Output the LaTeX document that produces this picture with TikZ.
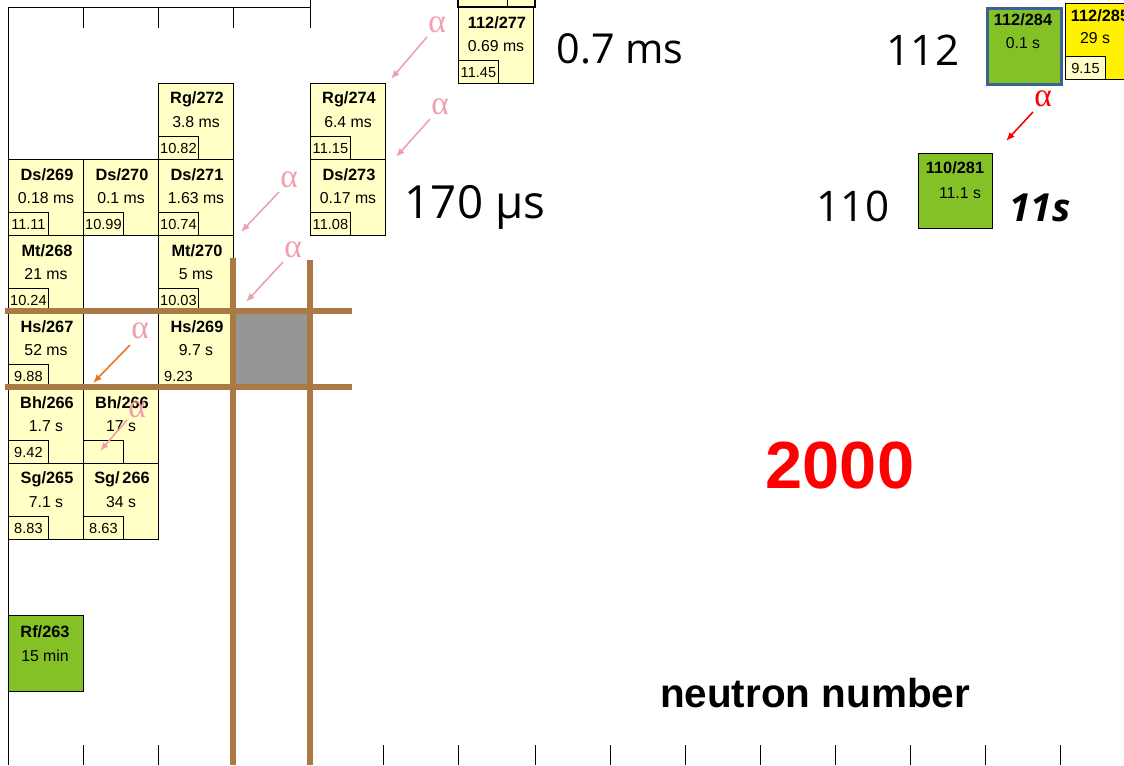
\documentclass[tikz,border=0pt]{standalone}
\usepackage{fontspec}
\setmainfont{Liberation Sans}
\newfontfamily\handfont{Open Sans}
\newfontfamily\greekfont{Liberation Serif}
\usetikzlibrary{arrows.meta}
\definecolor{cellYellow}{RGB}{255,255,198}
\definecolor{nucGreen}{RGB}{132,193,38}
\definecolor{barBrown}{RGB}{170,122,68}
\definecolor{alphaPink}{RGB}{240,160,170}
\definecolor{decOrange}{RGB}{232,118,32}
\definecolor{boxBlue}{RGB}{58,98,150}
\definecolor{greyCell}{RGB}{150,150,150}

\begin{document}
\begin{tikzpicture}[x=0.02cm,y=-0.02cm,
      cell/.style={draw,fill=cellYellow,line width=0.6pt,minimum width=1.5cm,minimum height=1.52cm,inner sep=0pt,anchor=north west},
      ttl/.style={font=\fontsize{9.3}{10}\selectfont\bfseries,inner sep=0pt},
      val/.style={font=\fontsize{9}{10}\selectfont,inner sep=0pt},
      qbox/.style={draw,line width=0.5pt,fill=cellYellow,font=\fontsize{8.3}{9}\selectfont,minimum width=0.8cm,minimum height=0.46cm,inner sep=1pt,anchor=south west},
      qtxt/.style={qbox,draw=none,fill=none},
      alf/.style={font=\greekfont\fontsize{19}{19}\selectfont,text=alphaPink,inner sep=1pt},
      dec/.style={alphaPink,line width=0.9pt,-{Latex[length=5pt,width=4pt]}},
      bar/.style={barBrown,line width=2.9pt},
      big/.style={font=\handfont\fontsize{24}{26}\selectfont,anchor=base}]
    \useasboundingbox (0,0) rectangle (1124,765);
    \draw[line width=0.5pt] (8,765) -- (8,7) -- (310,7) (310,0) -- (310,28);
    \foreach \x in {83,158,233}
      \draw[line width=0.5pt] (\x,7) -- (\x,28);
    \foreach \x in {83,158,383,458,535,610,685,760,835,910,985,1060}
      \draw[line width=0.5pt] (\x,745) -- (\x,765);
    \draw[fill=cellYellow,line width=0.6pt] (458,-3) rectangle (535,7);
    \draw[line width=0.5pt] (507,-3) -- (507,7);
    \fill[greyCell] (233,311) rectangle (310,387);
    \foreach \x/\y/\nm/\el/\A/\life/\qa/\qs in {
        458/7/c277/112/277/0.69 ms/11.45/qbox,
        158/83/rg272/Rg/272/3.8 ms/10.82/qbox,
        310/83/rg274/Rg/274/6.4 ms/11.15/qbox,
        8/159/ds269/Ds/269/0.18 ms/11.11/qbox,
        83/159/ds270/Ds/270/0.1 ms/10.99/qbox,
        158/159/ds271/Ds/271/1.63 ms/10.74/qbox,
        310/159/ds273/Ds/273/0.17 ms/11.08/qbox,
        8/235/mt268/Mt/268/21 ms/10.24/qbox,
        158/235/mt270/Mt/270/5 ms/10.03/qbox,
        8/311/hs267/Hs/267/52 ms/9.88/qbox,
        158/311/hs269/Hs/269/9.7 s/9.23/qtxt,
        8/387/bh266/Bh/266/1.7 s/9.42/qbox,
        83/387/bh266b/Bh/266/17 s//qbox,
        8/463/sg265/Sg/265/7.1 s/8.83/qbox,
        83/463/sg266/Sg/{\,266}/34 s/8.63/qbox} {
      \node[cell] (\nm) at (\x,\y) {};
      \node[ttl] (\nm-t) at (\x+39,\y+16) {\el/\A};
      \node[val] (\nm-v) at (\x+38,\y+39) {\life};
      \node[\qs] (\nm-q) at (\nm.south west) {\qa};
    }
    \node[cell,fill=nucGreen] (rf263) at (8,615) {};
    \node[ttl] (rf263-t) at (45,632) {Rf/263};
    \node[val] (rf263-v) at (45,656) {15 min};
    \node[cell,fill=nucGreen,draw=boxBlue,line width=1.5pt,minimum width=1.48cm] (c284) at (986,7) {};
    \node[ttl] (c284-t) at (1023,20) {112/284};
    \node[val] (c284-v) at (1023,43) {0.1 s};
    \node[cell,fill=yellow] (c285) at (1065,3) {};
    \node[ttl] (c285-t) at (1100,16) {112/285};
    \node[val] (c285-v) at (1095,38) {29 s};
    \node[qbox] (c285-q) at (c285.south west) {9.15};
    \node[cell,fill=nucGreen,minimum width=1.48cm,minimum height=1.5cm] (c281) at (918,153) {};
    \node[ttl] (c281-t) at (955,168) {110/281};
    \node[val] (c281-v) at (960,193) {11.1 s};
    \draw[bar] (233,258) -- (233,765);
    \draw[bar] (310,260) -- (310,765);
    \draw[bar] (5,311) -- (352,311);
    \draw[bar] (5,387) -- (352,387);
    \node[alf] (a1) at (437,25) {α};
    \node[alf] (a2) at (440,107) {α};
    \node[alf] (a3) at (289,180) {α};
    \node[alf] (a4) at (293,250) {α};
    \node[alf] (a5) at (140,331) {α};
    \node[alf] (a6) at (137,410) {α};
    \node[alf,text=red] (a7) at (1043,99) {α};
    \draw[dec] ([shift={(-10,12)}]a1.center) -- ([shift={(5,-4)}]rg274.north east);
    \draw[dec] ([shift={(-10,12)}]a2.center) -- ([shift={(10,-2)}]ds273.north east);
    \draw[dec] ([shift={(-10,12)}]a3.center) -- ([shift={(7,-3)}]mt270.north east);
    \draw[dec] ([shift={(-10,12)}]a4.center) -- ([shift={(12,-9)}]hs269.north east);
    \draw[dec,decOrange] ([shift={(-10,14)}]a5.center) -- ([shift={(9,-4)}]bh266.north east);
    \draw[dec] ([shift={(-10,10)}]a6.center) -- ([shift={(17,-13)}]bh266b.south west);
    \draw[dec,red] ([shift={(-10,13)}]a7.center) -- ([shift={(13,-12)}]c281.north east);
    \node[big,font=\handfont\fontsize{23.5}{26}\selectfont] (t07) at (620,63) {0.7 ms};
    \node[big,font=\handfont\fontsize{26}{28}\selectfont] (t170) at (475,218) {170 µs};
    \node[big] (z112) at (923,65) {112};
    \node[big] (z110) at (853,221) {110};
    \node[big,font=\handfont\fontsize{22}{24}\selectfont\bfseries\itshape] (t11) at (1040,221) {11s};
    \node[font=\fontsize{38}{40}\selectfont\bfseries,text=red,anchor=base] (yr) at (840,488) {2000};
    \node[font=\fontsize{23}{25}\selectfont\bfseries,anchor=base] (xlab) at (815,707) {neutron number};
  \end{tikzpicture}
\end{document}
